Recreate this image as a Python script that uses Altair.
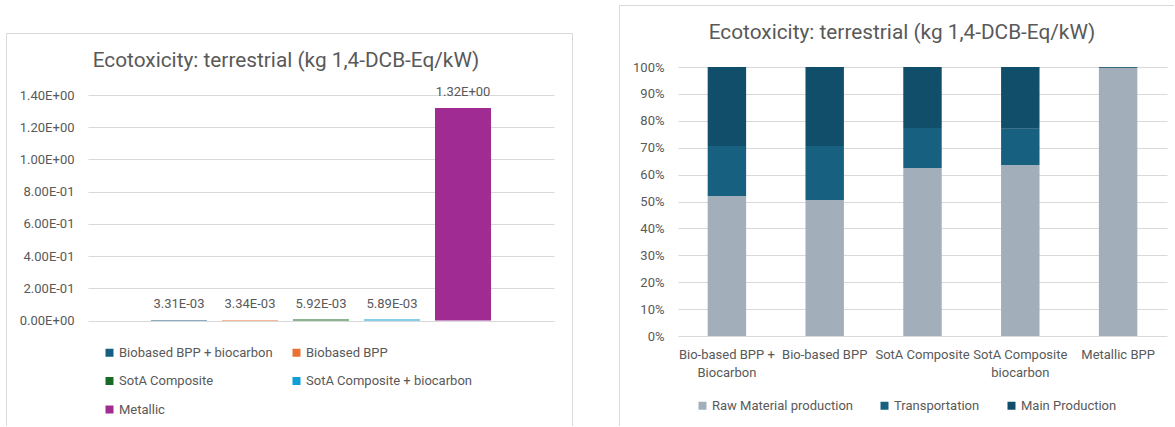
import json

import altair as alt
import pandas as pd

FONT = "Roboto"
TEXT = "#595959"
GRID = "#d9d9d9"
TITLE = "Ecotoxicity: terrestrial (kg 1,4-DCB-Eq/kW)"

# Left panel: total impact per bipolar-plate option
series = ["Biobased BPP + biocarbon", "Biobased BPP", "SotA Composite",
          "SotA Composite + biocarbon", "Metallic"]
totals = [3.31e-03, 3.34e-03, 5.92e-03, 5.89e-03, 1.32e+00]
series_colors = ["#156082", "#E97132", "#196B24", "#0F9ED5", "#A02B93"]
value_ticks = [0.0, 0.2, 0.4, 0.6, 0.8, 1.0, 1.2, 1.4]

# Right panel: share of each life-cycle stage (%)
products = ["Bio-based BPP + Biocarbon", "Bio-based BPP", "SotA Composite",
            "SotA Composite biocarbon", "Metallic BPP"]
product_lines = {
    "Bio-based BPP + Biocarbon": ["Bio-based BPP +", "Biocarbon"],
    "SotA Composite biocarbon": ["SotA Composite", "biocarbon"],
}
stages = ["Raw Material production", "Transportation", "Main Production"]
stage_colors = ["#A2AEBA", "#17607F", "#114E69"]
raw_material = [52.0, 50.6, 62.5, 63.6, 99.6]
transportation = [18.6, 20.0, 14.8, 13.4, 0.1]
main_production = [29.4, 29.4, 22.7, 23.0, 0.3]
share_ticks = [i / 10 for i in range(11)]

# Excel-style scientific labels (0.00E+00)
EXP = "floor(log(datum.value) / LN10)"
SCI_EXPR = (
    "datum.value == 0 ? '0.00E+00' : "
    f"format(datum.value / pow(10, {EXP}), '.2f') + 'E' + "
    f"({EXP} < 0 ? '-' : '+') + (abs({EXP}) < 10 ? '0' : '') + abs({EXP})"
)

one_row = alt.Data(values=[{}])


def hline(x, x2, y):
    return alt.Chart(one_row).mark_rule(color=GRID, strokeWidth=1).encode(
        x=alt.value(x), x2=alt.value(x2), y=alt.value(y))


def vline(x, y, y2):
    return alt.Chart(one_row).mark_rule(color=GRID, strokeWidth=1).encode(
        x=alt.value(x), y=alt.value(y), y2=alt.value(y2))


def title(offset, dx):
    return alt.Title(TITLE, font=FONT, fontSize=20.8, fontWeight="normal",
                     color=TEXT, anchor="middle", frame="group",
                     baseline="middle", offset=offset, dx=dx)


def value_axis(**kw):
    return alt.Axis(title=None, ticks=False, domain=False, grid=True,
                    gridColor=GRID, gridWidth=1, labelFont=FONT,
                    labelFontSize=13, labelColor=TEXT, labelPadding=14,
                    labelOverlap=False, **kw)


# ---------------- left: absolute values ----------------
left_df = pd.DataFrame({
    "series": series,
    "value": totals,
    "label": [f"{v:.2E}" for v in totals],
})

# legend fills column by column; this order reads row by row in two columns
legend_order = [0, 2, 4, 1, 3]
legend_series = [series[i] for i in legend_order]
legend_colors = [series_colors[i] for i in legend_order]

x_left = alt.X("series:N", sort=series, axis=None,
               scale=alt.Scale(domain=series, paddingInner=0.211,
                               paddingOuter=0.887))
# value axis sits lower than the panel's plot top: 0 -> 253.5 px, 1.4 -> 28 px
y_left = alt.Y("value:Q",
               scale=alt.Scale(domain=[0, 1.4], range=[253.5, 28], nice=False),
               axis=value_axis(values=value_ticks, labelExpr=SCI_EXPR))

bars_left = alt.Chart(left_df).mark_bar().encode(
    x=x_left,
    y=y_left,
    color=alt.Color(
        "series:N",
        scale=alt.Scale(domain=legend_series, range=legend_colors),
        legend=alt.Legend(orient="none", legendX=15, legendY=279, columns=2,
                          title=None, symbolType="square", symbolSize=64,
                          symbolStrokeWidth=0, labelFont=FONT,
                          labelFontSize=13, labelColor=TEXT, labelOffset=3,
                          columnPadding=17, rowPadding=14.5, labelLimit=400)),
)

labels_left = alt.Chart(left_df).mark_text(
    dy=-16, baseline="middle", font=FONT, fontSize=13, color=TEXT
).encode(x=x_left, y=y_left, text="label:N")

left = alt.layer(
    hline(-81.5, 484.5, -33.5),
    vline(-81.5, -33.5, 359),
    vline(484.5, -33.5, 359),
    bars_left,
    labels_left,
).properties(width=466, height=253.5, title=title(-49, -35))

# ---------------- right: stage shares ----------------
right_rows = []
for i, product in enumerate(products):
    for j, values in enumerate([raw_material, transportation, main_production]):
        right_rows.append({"product": product, "stage": stages[j],
                           "stage_order": j, "share": values[i]})
right_df = pd.DataFrame(right_rows)

line_expr = " : ".join(
    f"datum.label == '{name}' ? {json.dumps(lines)}"
    for name, lines in product_lines.items()
) + " : datum.label"

bars_right = alt.Chart(right_df).mark_bar().encode(
    x=alt.X("product:N", sort=products,
            scale=alt.Scale(domain=products, paddingInner=0.607,
                            paddingOuter=0.3035),
            axis=alt.Axis(title=None, labelAngle=0, labelExpr=line_expr,
                          labelFont=FONT, labelFontSize=13, labelColor=TEXT,
                          labelPadding=12, labelLineHeight=18,
                          labelBaseline="top", labelOverlap=False,
                          labelBound=False, labelLimit=300,
                          ticks=False, domain=False)),
    y=alt.Y("share:Q", stack="normalize",
            scale=alt.Scale(domain=[0, 1], nice=False),
            axis=value_axis(values=share_ticks, format=".0%")),
    color=alt.Color(
        "stage:N", sort=stages,
        scale=alt.Scale(domain=stages, range=stage_colors),
        legend=alt.Legend(orient="none", legendX=18, legendY=332,
                          direction="horizontal", title=None,
                          symbolType="square", symbolSize=64,
                          symbolStrokeWidth=0, labelFont=FONT,
                          labelFontSize=13, labelColor=TEXT, labelOffset=3,
                          columnPadding=25, labelLimit=400)),
    order=alt.Order("stage_order:Q"),
)

right = alt.layer(
    hline(-58.5, 496, -61.5),
    vline(-58.5, -61.5, 359),
    bars_right,
).properties(width=489, height=269, title=title(-49, -20.5))

chart = alt.hconcat(left, right, spacing=46).resolve_scale(
    color="independent"
).properties(
    padding={"left": 6, "top": 5, "right": 0, "bottom": 0},
    background="white",
).configure_view(stroke=None)

chart.save("out.html", embed_options={"renderer": "svg", "actions": False})
